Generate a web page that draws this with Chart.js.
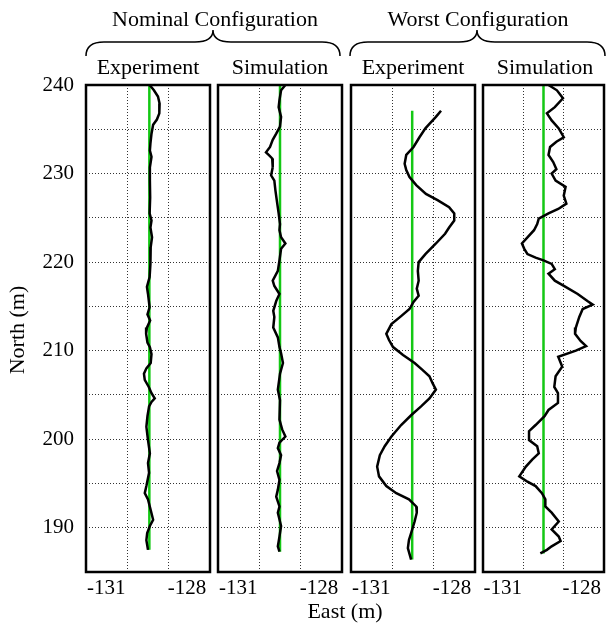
<!DOCTYPE html>
<html>
<head>
<meta charset="UTF-8">
<title>North vs East trajectories</title>
<script src="https://cdn.jsdelivr.net/npm/chart.js@4.4.0/dist/chart.umd.min.js"></script>
<style>
    body { margin: 0; background: #fff; }
    #wrap { position: relative; width: 606px; height: 637px; overflow: hidden; }
    canvas { position: absolute; top: 70px; }
    #labels { position: absolute; left: 0; top: 0; pointer-events: none; }
    #labels text { font-family: "Liberation Serif", "Times New Roman", serif; fill: #000; }
</style>
</head>
<body>
<div id="wrap">
    <canvas id="p1" width="214" height="550" style="left:0px"></canvas>
    <canvas id="p2" width="134" height="550" style="left:213px"></canvas>
    <canvas id="p3" width="134" height="550" style="left:346px"></canvas>
    <canvas id="p4" width="128" height="550" style="left:478px"></canvas>
    <svg id="labels" width="606" height="637">
        <text x="215" y="26" font-size="22" text-anchor="middle">Nominal Configuration</text>
        <text x="478" y="26" font-size="22" text-anchor="middle">Worst Configuration</text>
        <path d="M86,56 Q86,42 104,42 L195,42 Q213,42 213,30 Q213,42 231,42 L322,42 Q340,42 340,56" fill="none" stroke="#000" stroke-width="1.5"/>
        <path d="M350,56 Q350,42 368,42 L459,42 Q477,42 477,30 Q477,42 495,42 L587,42 Q605,42 605,56" fill="none" stroke="#000" stroke-width="1.5"/>
        <text x="148" y="74" font-size="22" text-anchor="middle">Experiment</text>
        <text x="280" y="74" font-size="22" text-anchor="middle">Simulation</text>
        <text x="413" y="74" font-size="22" text-anchor="middle">Experiment</text>
        <text x="545" y="74" font-size="22" text-anchor="middle">Simulation</text>
        <text x="345" y="618" font-size="22" text-anchor="middle">East (m)</text>
        <text transform="translate(24,330) rotate(-90)" font-size="22" text-anchor="middle">North (m)</text>
    </svg>
</div>

<script>
// labelled ticks
const eastTicks = [-131, -128];
const northTicks = [190, 200, 210, 220, 230, 240];
// dotted vertical grid lines split each panel in thirds
const eastGrid = [-130.2167, -128.6833];

// nominal configuration, experiment
const nomExpNorth = [240.0, 239.4, 238.7, 237.9, 236.8, 236.1, 235.5, 234.5, 233.4, 232.6, 231.9, 230.7, 229.2, 227.3, 225.5, 224.7, 223.9, 222.8, 221.7, 219.8, 218.3, 217.2, 216.4, 214.9, 214.1, 213.4, 212.6, 211.9, 210.9, 210.4, 209.6,
    208.6, 208.0, 207.4, 206.7, 205.9, 205.2, 204.6, 204.2, 203.7, 202.6, 201.4, 199.9, 198.4, 197.3, 196.2, 194.7, 193.9, 193.2, 192.0, 190.9, 190.2, 189.4, 188.6, 187.5];
const nomExpEast = [-129.39, -129.23, -129.08, -129.02, -129.03, -129.12, -129.26, -129.32, -129.36, -129.38, -129.32, -129.38, -129.38, -129.37, -129.39, -129.32, -129.36, -129.30, -129.35, -129.36, -129.39, -129.49, -129.45, -129.39, -129.47, -129.37, -129.49, -129.52, -129.47, -129.38, -129.32,
    -129.35, -129.51, -129.60, -129.57, -129.42, -129.32, -129.20, -129.32, -129.41, -129.47, -129.51, -129.45, -129.38, -129.45, -129.41, -129.51, -129.57, -129.45, -129.35, -129.26, -129.38, -129.48, -129.51, -129.45];

// nominal configuration, simulation
const nomSimNorth = [240.0, 239.4, 238.3, 237.5, 236.4, 235.3, 234.5, 233.8, 233.0, 232.4, 232.1, 231.7, 230.7, 229.8, 229.2, 228.1, 227.0, 225.5, 224.3, 223.6, 222.8, 222.1, 221.5, 220.2, 219.0, 217.9, 217.3, 216.4, 215.6, 214.5, 213.8, 212.6, 211.5, 210.4,
    209.7, 208.6, 207.4, 205.6, 204.4, 202.2, 201.1, 200.3, 199.6, 199.0, 198.2, 197.3, 196.4, 195.4, 194.3, 193.5, 192.4, 191.7, 190.2, 189.0, 187.9, 187.3];
const nomSimEast = [-129.25, -129.41, -129.47, -129.50, -129.41, -129.45, -129.59, -129.72, -129.82, -129.97, -129.87, -129.74, -129.72, -129.78, -129.66, -129.62, -129.57, -129.50, -129.45, -129.47, -129.41, -129.25, -129.41, -129.47, -129.53, -129.72, -129.66, -129.47, -129.59, -129.70, -129.66, -129.70, -129.53, -129.47,
    -129.41, -129.34, -129.45, -129.53, -129.45, -129.47, -129.37, -129.25, -129.47, -129.53, -129.41, -129.47, -129.56, -129.47, -129.53, -129.59, -129.47, -129.53, -129.41, -129.47, -129.53, -129.47];

// worst configuration, experiment
const worstExpNorth = [237.1, 236.4, 235.6, 235.1, 234.1, 233.0, 232.1, 231.1, 230.4, 229.6, 228.7, 227.7, 227.0, 226.2, 225.5, 224.7, 223.9, 223.2, 222.1, 220.9, 220.0, 219.0, 217.9, 217.0, 216.2, 215.5, 214.7, 213.9, 213.0, 211.9,
    211.2, 210.4, 209.5, 208.6, 207.8, 207.1, 206.3, 205.6, 204.6, 203.7, 202.7, 201.6, 200.3, 199.2, 198.2, 196.9, 195.8, 194.7, 193.9, 193.2, 192.4, 191.7, 190.7, 189.8, 188.6, 187.7, 186.4];
const worstExpEast = [-128.41, -128.60, -128.84, -128.99, -129.21, -129.43, -129.70, -129.76, -129.70, -129.58, -129.33, -128.97, -128.54, -128.11, -127.92, -127.92, -128.11, -128.26, -128.60, -128.99, -129.24, -129.27, -129.24, -129.31, -129.24, -129.43, -129.58, -129.89, -130.25, -130.44,
    -130.34, -130.19, -129.82, -129.39, -129.09, -128.84, -128.72, -128.60, -128.84, -129.15, -129.52, -129.89, -130.25, -130.50, -130.68, -130.78, -130.71, -130.44, -130.07, -129.60, -129.33, -129.31, -129.39, -129.48, -129.60, -129.64, -129.52];

// worst configuration, simulation
const worstSimNorth = [240.0, 239.4, 238.5, 237.5, 236.8, 236.0, 235.1, 234.1, 233.6, 233.0, 232.1, 231.3, 230.5, 230.0, 229.2, 228.5, 227.5, 226.6, 226.0, 225.5, 224.9, 224.3, 223.6, 222.8, 222.1, 221.5, 220.9, 220.5, 220.2, 219.8, 219.2, 218.7, 217.9, 217.2, 216.4, 215.6, 215.2, 214.7, 213.8, 212.6, 211.9, 211.1, 210.5, 210.0,
    209.3, 208.2, 207.1, 205.9, 205.2, 204.1, 203.3, 202.6, 201.6, 200.9, 199.9, 199.2, 198.4, 197.7, 196.9, 195.8, 195.2, 194.7, 193.9, 193.2, 192.4, 191.7, 190.7, 189.8, 189.0, 188.5, 187.9, 187.5, 187.1];
const worstSimEast = [-129.26, -128.94, -128.71, -129.02, -129.32, -129.14, -128.87, -128.68, -128.96, -129.20, -129.26, -129.08, -128.96, -129.14, -128.99, -128.61, -128.68, -128.58, -128.89, -129.26, -129.63, -129.69, -129.81, -130.06, -130.27, -130.18, -130.06, -129.75, -129.45, -129.14, -129.02, -129.26, -129.02, -128.61, -128.15, -127.78, -127.58, -127.96, -128.09, -128.22, -128.25, -128.04, -127.83, -128.22,
    -128.89, -128.74, -128.99, -129.04, -128.90, -128.90, -129.26, -129.41, -129.75, -130.00, -130.00, -129.69, -129.63, -129.88, -130.12, -130.37, -130.06, -129.75, -129.51, -129.38, -129.38, -129.14, -128.87, -129.14, -128.87, -128.80, -129.14, -129.32, -129.57];

// green reference lines: east position, north start, north end
const refEast = [-129.40, -129.45, -129.48, -129.45];
const refNorthStart = [240.0, 240.0, 237.1, 240.0];
const refNorthEnd = [187.5, 187.3, 186.4, 187.1];

const serif = 'Liberation Serif';

// box round the plot area
const framePlugin = {
    id: 'frame',
    afterDatasetsDraw(chart) {
        const a = chart.chartArea;
        const ctx = chart.ctx;
        ctx.save();
        ctx.lineWidth = 2.5;
        ctx.strokeStyle = '#000';
        ctx.strokeRect(a.left, a.top, a.right - a.left, a.bottom - a.top);
        ctx.restore();
    }
};

function toPoints(east, north) {
    return east.map((e, i) => ({ x: e, y: north[i] }));
}

function makePanel(id, east, north, k, showY, padLeft, padRight) {
    new Chart(document.getElementById(id), {
        type: 'scatter',
        data: {
            datasets: [{
                data: toPoints(east, north),
                showLine: true,
                borderColor: '#000',
                borderWidth: 2.5,
                pointRadius: 0,
                tension: 0
            }, {
                data: toPoints([refEast[k], refEast[k]], [refNorthStart[k], refNorthEnd[k]]),
                showLine: true,
                borderColor: '#14c814',
                borderWidth: 2.5,
                pointRadius: 0
            }]
        },
        options: {
            responsive: false,
            animation: false,
            events: [],
            layout: { autoPadding: false, padding: { top: 15, bottom: 0, left: padLeft, right: padRight } },
            plugins: { legend: { display: false }, tooltip: { enabled: false } },
            scales: {
                x: {
                    type: 'linear',
                    min: -131.75,
                    max: -127.15,
                    afterFit: s => { s.height = 48; s.paddingLeft = 0; s.paddingRight = 0; },
                    afterBuildTicks: s => { s.ticks = [...eastTicks, ...eastGrid].map(v => ({ value: v })); },
                    ticks: {
                        autoSkip: false,
                        maxRotation: 0,
                        padding: 4,
                        color: '#000',
                        font: { family: serif, size: 21 },
                        callback: v => eastTicks.includes(v) ? String(v) : ''
                    },
                    grid: {
                        color: c => eastGrid.includes(c.tick.value) ? '#333' : 'rgba(0,0,0,0)',
                        lineWidth: 1,
                        drawTicks: false
                    },
                    border: { display: false, dash: [1, 2] }
                },
                y: {
                    type: 'linear',
                    min: 185,
                    max: 240,
                    afterFit: s => { s.width = showY ? 86 : 0; s.paddingTop = 0; s.paddingBottom = 0; },
                    ticks: {
                        stepSize: 5,
                        display: showY,
                        padding: 12,
                        color: '#000',
                        font: { family: serif, size: 21 },
                        callback: v => northTicks.includes(v) ? String(v) : ''
                    },
                    grid: { color: '#333', lineWidth: 1, drawTicks: false },
                    border: { display: false, dash: [1, 2] }
                }
            }
        },
        plugins: [framePlugin]
    });
}

makePanel('p1', nomExpEast, nomExpNorth, 0, true, 0, 4);
makePanel('p2', nomSimEast, nomSimNorth, 1, false, 5, 5);
makePanel('p3', worstExpEast, worstExpNorth, 2, false, 5, 5);
makePanel('p4', worstSimEast, worstSimNorth, 3, false, 5, 2);
</script>
</body>
</html>
